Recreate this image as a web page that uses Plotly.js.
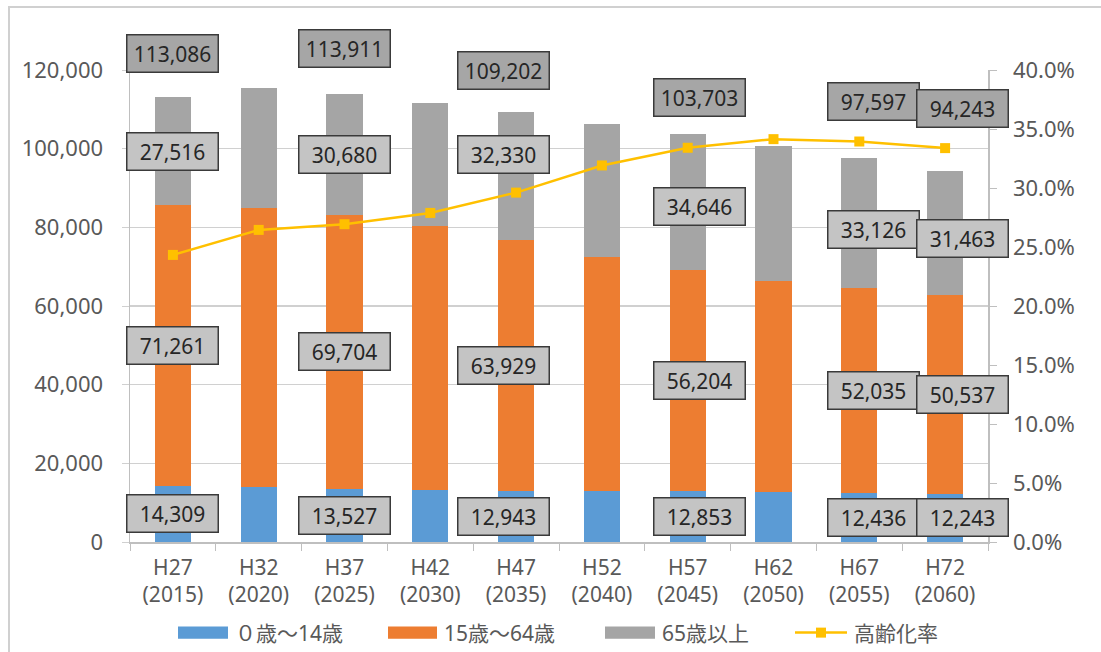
<!DOCTYPE html>
<html>
<head>
<meta charset="utf-8">
<script src="https://cdn.plot.ly/plotly-3.0.1.min.js"></script>
<style>
  html, body { margin: 0; padding: 0; background: #fff; }
  #chart { width: 1101px; height: 652px; position: relative; }
  #frame { position: absolute; left: 8px; top: 6px; width: 1200px; height: 700px;
           border-left: 2px solid #d0d0d0; border-top: 2px solid #d0d0d0; pointer-events: none; }
</style>
</head>
<body>
<div id="chart"></div>
<div id="frame"></div>
<script>
// ---- data ----
const categories = ['H27<br>(2015)', 'H32<br>(2020)', 'H37<br>(2025)', 'H42<br>(2030)', 'H47<br>(2035)',
                    'H52<br>(2040)', 'H57<br>(2045)', 'H62<br>(2050)', 'H67<br>(2055)', 'H72<br>(2060)'];
const age0to14  = [14309, 13900, 13527, 13250, 12943, 12900, 12853, 12650, 12436, 12243];
const age15to64 = [71261, 70900, 69704, 67150, 63929, 59450, 56204, 53700, 52035, 50537];
const age65plus = [27516, 30500, 30680, 31100, 32330, 33900, 34646, 34400, 33126, 31463];
const totals    = [113086, 115300, 113911, 111500, 109202, 106250, 103703, 100750, 97597, 94243];
const agingRate = [0.2433, 0.2645, 0.2693, 0.2789, 0.2961, 0.3191, 0.3341, 0.3414, 0.3394, 0.3338];
// which columns carry value labels in the original
const labelled  = [true, false, true, false, true, false, true, false, true, true];

const seriesNames = ['０歳～14歳', '15歳～64歳', '65歳以上', '高齢化率'];
const colors = ['#5b9bd5', '#ed7d31', '#a5a5a5', '#ffc000'];

// ---- label placement (pixel offsets, style only) ----
const labelXShift     = [0, 0, 0, 0, -13, 0, 12, 0, 14, 17];
const totalYShift     = [44, 0, 45, 0, 42, 0, 37, 0, 57, 63];
const old65YShift     = [0, 0, 0, 0, 22, 0, -4, 0, -6, -5];

const FONT = 'Noto Sans, Noto Sans CJK JP, sans-serif';

const traces = [
  { type: 'bar', name: seriesNames[0], x: categories, y: age0to14, marker: { color: colors[0] }, hoverinfo: 'skip' },
  { type: 'bar', name: seriesNames[1], x: categories, y: age15to64, marker: { color: colors[1] }, hoverinfo: 'skip' },
  { type: 'bar', name: seriesNames[2], x: categories, y: age65plus, marker: { color: colors[2] }, hoverinfo: 'skip' },
  { type: 'scatter', mode: 'lines+markers', name: seriesNames[3], x: categories, y: agingRate, yaxis: 'y2',
    line: { color: colors[3], width: 2.5 }, marker: { color: colors[3], symbol: 'square', size: 10 }, hoverinfo: 'skip' }
];

const annotations = [];
function box(x, y, text, yshift, xshift, bg) {
  annotations.push({
    x: x, y: y, xref: 'x', yref: 'y', text: text, showarrow: false,
    xshift: xshift, yshift: yshift,
    font: { family: FONT, size: 21, color: '#262626' },
    bgcolor: bg, bordercolor: '#3a3a3a', borderwidth: 1.5, borderpad: 3,
    width: 84, height: 30
  });
}
const fmt = v => v.toLocaleString('en-US');
categories.forEach((c, i) => {
  if (!labelled[i]) return;
  const b0 = age0to14[i], b1 = b0 + age15to64[i], b2 = b1 + age65plus[i];
  box(c, b0 / 2, fmt(age0to14[i]), 0, labelXShift[i], '#c4c4c4');
  box(c, (b0 + b1) / 2, fmt(age15to64[i]), 0, labelXShift[i], '#c4c4c4');
  box(c, (b1 + b2) / 2, fmt(age65plus[i]), old65YShift[i], labelXShift[i], '#c4c4c4');
  box(c, totals[i], fmt(totals[i]), totalYShift[i], labelXShift[i], '#a6a6a6');
});

// ---- custom legend ----
const shapes = [];
const legendY = -0.192;
const legendItems = [
  { kind: 'bar', color: colors[0], x0: 178, x1: 228, tx: 233, text: seriesNames[0] },
  { kind: 'bar', color: colors[1], x0: 388, x1: 437, tx: 442, text: seriesNames[1] },
  { kind: 'bar', color: colors[2], x0: 605, x1: 655, tx: 660, text: seriesNames[2] },
  { kind: 'line', color: colors[3], x0: 795, x1: 847, tx: 852, text: seriesNames[3] }
];
const L = 130, R = 988;
const px = X => (X - L) / (R - L);
legendItems.forEach(it => {
  if (it.kind === 'bar') {
    shapes.push({ type: 'rect', xref: 'paper', yref: 'paper', x0: px(it.x0), x1: px(it.x1),
      y0: legendY - 0.013, y1: legendY + 0.013, fillcolor: it.color, line: { width: 0 } });
  } else {
    shapes.push({ type: 'line', xref: 'paper', yref: 'paper', x0: px(it.x0), x1: px(it.x1),
      y0: legendY, y1: legendY, line: { color: it.color, width: 2.5 } });
    const mid = (it.x0 + it.x1) / 2;
    shapes.push({ type: 'rect', xref: 'paper', yref: 'paper', x0: px(mid - 5), x1: px(mid + 5),
      y0: legendY - 0.0106, y1: legendY + 0.0106, fillcolor: it.color, line: { width: 0 } });
  }
  annotations.push({ xref: 'paper', yref: 'paper', x: px(it.tx), y: legendY, xanchor: 'left', yanchor: 'middle',
    text: it.text, showarrow: false, font: { family: FONT, size: 21, color: '#595959' } });
});

const layout = {
  width: 1101, height: 652,
  margin: { l: L, r: 1101 - R, t: 70, b: 110 },
  paper_bgcolor: '#ffffff', plot_bgcolor: '#ffffff',
  barmode: 'stack', bargap: 0.58,
  showlegend: false,
  font: { family: FONT, size: 21, color: '#595959' },
  xaxis: {
    type: 'category', range: [-0.5, 9.5], autorange: false,
    showgrid: false, showline: true, linecolor: '#bfbfbf', linewidth: 1.5,
    ticks: 'outside', tickson: 'boundaries', ticklen: 7, tickcolor: '#bfbfbf',
    ticklabelstandoff: 6,
    tickfont: { family: FONT, size: 21, color: '#595959' }, fixedrange: true
  },
  yaxis: {
    range: [0, 120000], dtick: 20000, tickformat: ',d', showgrid: true, gridcolor: '#d0d0d0', gridwidth: 1.5,
    showline: true, linecolor: '#bfbfbf', linewidth: 1.5, ticks: 'outside', ticklen: 7, tickcolor: '#d0d0d0',
    ticklabelstandoff: 14, zeroline: false,
    tickfont: { family: FONT, size: 22, color: '#595959' }, fixedrange: true
  },
  yaxis2: {
    overlaying: 'y', side: 'right', range: [0, 0.4], dtick: 0.05, tickformat: '.1%', showgrid: false,
    showline: true, linecolor: '#bfbfbf', linewidth: 1.5, ticks: 'outside', ticklen: 7, tickcolor: '#bfbfbf',
    ticklabelstandoff: 12, zeroline: false,
    tickfont: { family: FONT, size: 22, color: '#595959' }, fixedrange: true
  },
  annotations: annotations,
  shapes: shapes
};

Plotly.newPlot('chart', traces, layout, { displayModeBar: false, staticPlot: true });
</script>
</body>
</html>
